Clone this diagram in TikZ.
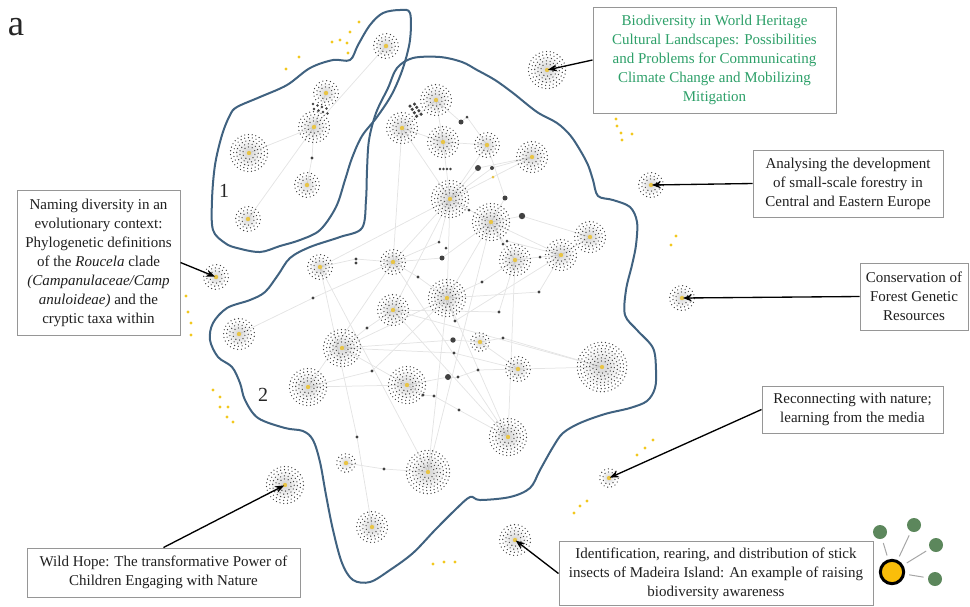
\documentclass[tikz,border=0pt]{standalone}
\usepackage{fontspec}
\setmainfont{Liberation Serif}
\usetikzlibrary{arrows.meta}
\definecolor{outl}{RGB}{64,98,128}
\definecolor{dotc}{RGB}{65,65,65}
\definecolor{clyel}{RGB}{232,196,70}
\definecolor{ydot}{RGB}{242,200,30}
\definecolor{biogreen}{RGB}{45,160,105}
\definecolor{leggreen}{RGB}{92,135,92}
\definecolor{legyel}{RGB}{250,190,10}
\definecolor{boxc}{RGB}{150,150,150}
\definecolor{edgec}{RGB}{228,228,228}
\newcommand{\clart}[2]{%
  \pgfmathsetmacro{\glr}{(3*#2+3)*0.6}%
  \foreach \f in {0.75,0.55,0.4,0.25}{%
    \pgfmathsetmacro{\gr}{\glr*\f}%
    \fill[gray, opacity=0.08] (#1) circle[radius=\gr pt];
  }%
  \foreach \i in {1,...,#2}{%
    \pgfmathsetmacro{\rr}{3.1*\i+3}%
    \pgfmathsetmacro{\rp}{\rr*0.6}%
    \pgfmathtruncatemacro{\nn}{round(2*pi*\rr/3.8)}%
    \pgfmathsetmacro{\stp}{360/\nn}%
    \foreach \j in {1,...,\nn}{%
      \pgfmathsetmacro{\ang}{\stp*\j+23*\i}%
      \fill[dotc] ([shift={(\ang:\rp pt)}]#1) circle[radius=0.4pt];
    }%
  }%
  \fill[clyel] (#1) circle[radius=1.3pt];
}
\begin{document}
\begin{tikzpicture}[x=0.6pt,y=-0.6pt,
  edge/.style={draw=edgec, line width=0.45pt},
  outline/.style={draw=outl, line width=1.2pt},
  box/.style={draw=boxc, line width=0.6pt, fill=white, align=center, inner sep=0pt,
    font=\fontsize{9}{11.4}\selectfont, text=black!88},
  arr/.style={-{Stealth[length=5.5pt,width=4.2pt]}, line width=0.8pt, black, shorten >=0.5pt},
  ydotstyle/.style={fill=ydot},
  gdot/.style={circle, fill=leggreen, minimum size=8.4pt, inner sep=0pt}]
\useasboundingbox (0,0) rectangle (970,606);

% ---- cluster coordinates
\foreach \nm/\x/\y in {c1/436/100, c2/402/128, c3/443/142, c4/487/145, c5/532/157,
  c6/450/199, c7/491/222, c8/590/237, c9/561/255, c10/515/260, c11/393/262,
  c12/320/267, c13/447/298, c14/393/310, c15/239/334, c16/342/348, c17/308/387,
  c18/407/385, c19/480/342, c20/518/369, c21/602/367, c22/508/437, c23/428/472,
  c24/346/463, c25/372/527, c26/386/46, c27/326/93, c28/314/127, c29/249/153,
  c30/307/185, c31/248/219, cbio/547/70, can/651/185, ccons/682/298, cnam/216/277,
  crec/609/478, cid/515/540, cwh/285/485}
  {\coordinate (\nm) at (\x,\y);}

% ---- isolated dark nodes
\foreach \nm/\x/\y/\r in {d1/461/122/2.5, d2/467/117/1.5, d3/478/168/3, d4/492/168/2,
  d5/505/198/2.5, d6/522/216/3.2, d7/469/210/1.5, d8/439/242/1.5, d9/446/248/1.5,
  d10/442/258/2.5, d11/503/244/1.5, d12/507/241/1.5, d13/540/257/1.5, d14/418/277/1.7,
  d15/356/259/1.7, d16/356/263/1.7, d17/313/298/1.7, d18/367/328/1.7, d19/455/321/1.7,
  d20/453/340/2.7, d21/454/353/1.7, d22/482/282/1.7, d23/539/292/1.7, d24/499/312/1.7,
  d25/503/338/1.7, d26/478/370/1.7, d27/448/377/3, d28/458/377/1.7, d29/372/371/1.7,
  d30/423/395/1.7, d31/434/396/1.7, d32/459/410/1.7, d33/357/437/1.7, d34/384/469/1.7,
  e1/312/158/1.7}
  {\coordinate (\nm) at (\x,\y);}

% ---- edges
\foreach \a/\b in {c26/c28, c27/c28, c28/c29, c28/e1, e1/c30, c28/c31,
  c1/c2, c1/c3, c1/d1, d1/d2, d2/c4, c2/c3, c2/c6, c3/c6, c3/c4, c4/c6, c4/d5, d5/c7,
  c5/c6, c5/d3, d3/c6, c6/d4, d4/c5, c6/c7, c6/d7, c6/c11, c6/c12, c6/c13, c6/c14,
  c7/c10, c7/c9, c7/d6, d6/c8, c8/c9, c9/d13, d13/c10, c10/d22, d22/c13, c9/d23,
  d23/c13, c12/d15, d15/c11, c15/d17, d17/c11, c11/d14, d14/c13, c14/d18, d18/c16,
  c16/c18, c16/d20, d20/c19, c17/c18, c17/d29, d29/c13, c18/d27, d27/d28, d28/d26,
  d26/c20, c18/d30, d30/d31, d31/d32, d32/c22, c19/c20, c19/d25, d25/c21, c20/c21,
  c12/d33, d33/c25, c12/c23, c24/d34, d34/c23, c23/c7, c23/c13, c22/c13, c22/c11,
  c22/c14, c22/c10, c16/c13, c2/c11, c13/d19, d19/c9, c11/d8, d8/c6, c11/d10, d10/c7,
  c14/d24, d24/c10, c17/c11, c14/c21, c16/d21, d21/c20, c7/d11, d12/c9, c13/c7}
  {\path[edge] (\a) -- (\b);}

% ---- outlines
\draw[outline] plot[smooth cycle, tension=0.55] coordinates {
  (410,13) (400,10) (383,13) (370,25) (358,45) (350,60) (333,60) (310,68) (287,85)
  (260,97) (237,107) (230,115) (222,135) (215,165) (212,200) (213,230) (225,243)
  (237,248) (260,252) (280,246) (300,240) (320,230) (336,207) (345,180) (352,158)
  (362,136) (377,117) (392,94) (403,68) (410,40)};
\draw[outline] plot[smooth cycle, tension=0.55] coordinates {
  (413,58) (440,57) (462,62) (477,70) (495,80) (513,93) (537,112) (557,123) (570,135)
  (580,150) (588,165) (593,180) (598,196) (613,200) (630,207) (637,222) (636,245)
  (632,265) (626,290) (625,315) (637,330) (653,348) (656,370) (655,388) (647,401)
  (630,408) (605,414) (580,423) (563,433) (553,447) (540,470) (530,488) (510,497)
  (480,500) (470,497) (455,510) (435,530) (413,553) (390,570) (370,582) (353,580)
  (342,563) (333,530) (326,495) (320,462) (313,440) (303,431) (285,428) (258,418)
  (245,400) (240,383) (232,367) (218,357) (210,340) (213,323) (227,308) (250,300)
  (265,292) (278,275) (290,258) (310,247) (340,237) (362,228) (366,200) (367,170)
  (369,140) (376,113) (388,88) (397,68)};

% ---- isolated dots drawn
\foreach \nm/\x/\y/\r in {d1/461/122/2.5, d2/467/117/1.5, d3/478/168/3, d4/492/168/2,
  d5/505/198/2.5, d6/522/216/3.2, d7/469/210/1.5, d8/439/242/1.5, d9/446/248/1.5,
  d10/442/258/2.5, d11/503/244/1.5, d12/507/241/1.5, d13/540/257/1.5, d14/418/277/1.7,
  d15/356/259/1.7, d16/356/263/1.7, d17/313/298/1.7, d18/367/328/1.7, d19/455/321/1.7,
  d20/453/340/2.7, d21/454/353/1.7, d22/482/282/1.7, d23/539/292/1.7, d24/499/312/1.7,
  d25/503/338/1.7, d26/478/370/1.7, d27/448/377/3, d28/458/377/1.7, d29/372/371/1.7,
  d30/423/395/1.7, d31/434/396/1.7, d32/459/410/1.7, d33/357/437/1.7, d34/384/469/1.7,
  e1/312/158/1.7}
  {\pgfmathsetmacro{\rq}{\r*0.6}\fill[dotc] (\nm) circle[radius=\rq pt];}
\fill[clyel] (493,177) circle[radius=0.9pt];

% dot blocks
\foreach \i in {0,...,3}{
  \fill[dotc] (313+4.5*\i,104+1.5*\i) circle[radius=0.8pt];
  \fill[dotc] (314+4.5*\i,109+1.5*\i) circle[radius=0.8pt];
  \fill[dotc] (410+2.2*\i,106+3.4*\i) circle[radius=1.05pt];
  \fill[dotc] (414.5+2.2*\i,104+3.4*\i) circle[radius=1.05pt];
  \fill[dotc] (440+3.5*\i,169) circle[radius=0.85pt];
}

% ---- clusters
\foreach \nm/\k in {c1/4, c2/4, c3/4, c4/3, c5/4, c6/5, c7/5, c8/4, c9/4, c10/4,
  c11/3, c12/3, c13/5, c14/4, c15/4, c16/5, c17/5, c18/5, c19/2, c20/3, c21/7, c22/5,
  c23/6, c24/2, c25/4, c26/3, c27/3, c28/4, c29/5, c30/3, c31/3, cbio/5, can/3,
  ccons/3, cnam/3, crec/2, cid/4, cwh/5}
  {\clart{\nm}{\k}}

% ---- yellow dots
\foreach \x/\y in {286/69, 299/57, 332/42, 340/40, 347/43, 348/53, 350/32, 359/22,
  616/119, 617/126, 621/133, 622/140, 632/134, 676/236, 671/245,
  186/296, 188/312, 191/323, 191/335, 213/390, 220/397, 220/407, 228/407, 227/417,
  233/422, 433/564, 444/562, 455/562, 637/455, 645/448, 653/440, 574/513, 580/506,
  587/501}
  {\fill[ydotstyle] (\x,\y) circle[radius=0.95pt];}

% ---- labels
\node[font=\fontsize{22}{22}\selectfont, text=black!85] (la) at (16,27) {a};
\node[font=\fontsize{12}{12}\selectfont, text=black!85] (l1) at (224,191) {1};
\node[font=\fontsize{12}{12}\selectfont, text=black!85] (l2) at (263,395) {2};

% ---- boxes
\node[box, text=biogreen, minimum width=145.8pt, minimum height=63.6pt] (bio) at (714.5,60)
  {Biodiversity in World Heritage\\Cultural Landscapes: Possibilities\\and Problems for Communicating\\Climate Change and Mobilizing\\Mitigation};
\node[box, minimum width=114pt, minimum height=40.2pt] (an) at (848,183.5)
  {Analysing the development\\of small-scale forestry in\\Central and Eastern Europe};
\node[box, minimum width=97.8pt, minimum height=87pt] (nam) at (98.5,262.5)
  {Naming diversity in an\\evolutionary context:\\Phylogenetic definitions\\of the \textit{Roucela} clade\\\textit{(Campanulaceae/Camp}\\\textit{anuloideae)} and the\\cryptic taxa within};
\node[box, minimum width=64.8pt, minimum height=40.2pt] (cons) at (914,296.5)
  {Conservation of\\Forest Genetic\\Resources};
\node[box, minimum width=108.6pt, minimum height=28.2pt] (rec) at (852.5,409.5)
  {Reconnecting with nature;\\learning from the media};
\node[box, minimum width=188.4pt, minimum height=38.4pt] (idb) at (716,573.5)
  {Identification, rearing, and distribution of stick\\insects of Madeira Island: An example of raising\\biodiversity awareness};
\node[box, minimum width=163.8pt, minimum height=29.4pt] (wh) at (163.5,572.5)
  {Wild Hope: The transformative Power of\\Children Engaging with Nature};

% ---- arrows
\draw[arr] (bio.west) -- (cbio);
\draw[arr] (an.west) -- (can);
\draw[arr] (nam.east) -- (cnam);
\draw[arr] (cons.west) -- (ccons);
\draw[arr] (rec.west) -- (crec);
\draw[arr] (idb.west) -- (cid);
\draw[arr] (wh.north) -- (cwh);

% ---- legend
\node[circle, draw=black, line width=1.8pt, fill=legyel, minimum size=14pt, inner sep=0pt] (lg) at (892,572) {};
\node[gdot] (g1) at (880,532) {};
\node[gdot] (g2) at (914,525) {};
\node[gdot] (g3) at (936,545) {};
\node[gdot] (g4) at (935,579) {};
\foreach \g in {g1,g2,g3,g4}
  {\draw[gray!70, line width=0.6pt, shorten <=2.5pt, shorten >=2.5pt] (lg) -- (\g);}
\end{tikzpicture}
\end{document}
